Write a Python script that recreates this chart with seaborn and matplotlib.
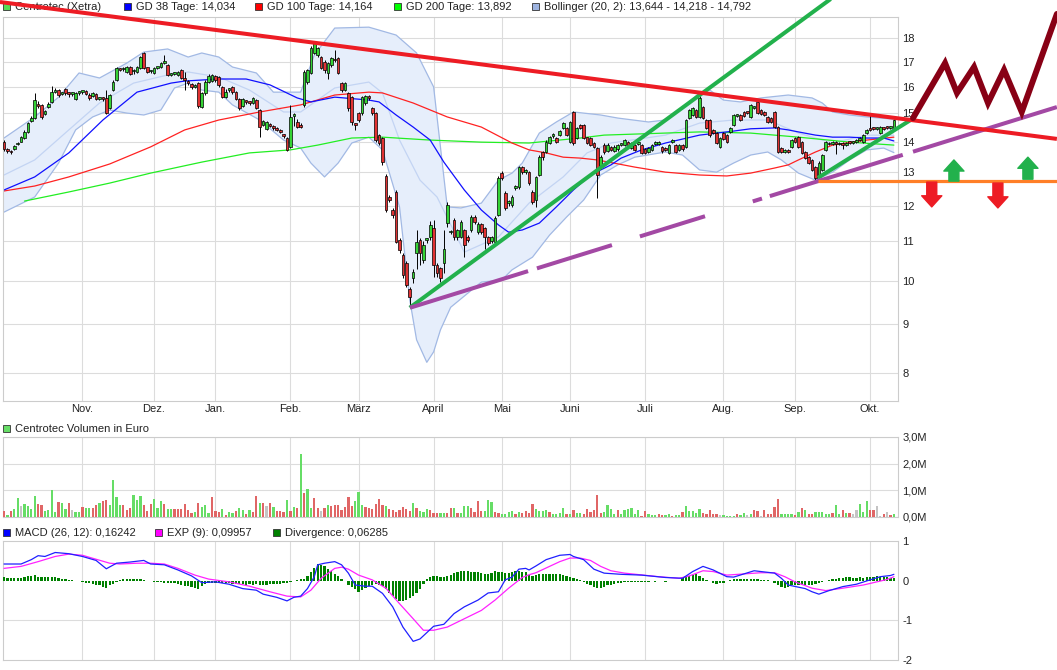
import matplotlib
matplotlib.use("Agg")
import matplotlib.pyplot as plt
from matplotlib.patches import Rectangle
from matplotlib.ticker import NullLocator, NullFormatter
import numpy as np
import pandas as pd
import seaborn as sns

W, H = 1057, 670

sns.set_style("white")
plt.rcParams["font.family"] = ["Liberation Sans", "DejaVu Sans"]
plt.rcParams["font.size"] = 8

# --- Kalender (Xetra-Handelstage) ---
START = "2019-10-01"
HOLIDAYS = ["2019-12-24", "2019-12-25", "2019-12-26", "2019-12-31", "2020-01-01",
            "2020-04-10", "2020-04-13", "2020-05-01"]
MONTH_LABELS = ["Nov.", "Dez.", "Jan.", "Feb.", "März", "April", "Mai", "Juni",
                "Juli", "Aug.", "Sep.", "Okt."]

PRICE_TICKS = [8, 9, 10, 11, 12, 13, 14, 15, 16, 17, 18]
VOL_TICKS = [0, 1, 2, 3]
VOL_TICK_LABELS = ["0,0M", "1,0M", "2,0M", "3,0M"]
MACD_TICKS = [-2, -1, 0, 1]
MACD_TICK_LABELS = ["-2", "-1", "0", "1"]

# --- Kurse (Tageskerzen) ---
opens = [
    13.99, 13.76, 13.68, 13.75, 13.92, 14.00, 14.13, 14.34, 14.72, 14.83, 15.34, 15.31, 14.98, 15.23, 15.42, 15.79,
    15.87, 15.72, 15.91, 15.74, 15.72, 15.53, 15.76,
    15.79, 15.83, 15.70, 15.65, 15.72, 15.53, 15.57, 15.57, 15.19, 15.87, 16.26, 16.70, 16.68, 16.58, 16.78, 16.60,
    16.58, 16.74, 17.36, 16.78, 16.60, 16.54, 16.74, 16.78, 16.94, 16.86, 16.46, 16.50, 16.46, 16.66, 16.30, 16.20,
    16.10, 16.00, 16.14, 15.23, 15.76, 16.18,
    16.22, 16.40, 16.38, 15.99, 15.60, 15.87, 15.99, 15.79, 15.53, 15.27, 15.45, 15.42, 15.38, 15.49, 15.12, 14.58,
    14.45, 14.60, 14.55, 14.48, 14.40, 14.25, 14.13, 13.83, 14.90, 14.70, 14.60,
    15.31, 16.18, 16.54, 17.36, 17.27, 17.19, 16.98, 16.54, 16.86, 17.10, 17.15, 16.14, 15.87, 15.76, 15.60, 14.62,
    15.01, 15.01, 15.38, 15.60, 15.19, 15.01, 14.23, 14.13, 12.89, 12.25, 11.87, 12.40, 11.04, 10.64, 10.44, 9.80,
    10.07, 10.70, 11.04, 10.52, 11.04, 11.12, 11.36, 10.39, 10.31, 10.44, 11.50, 11.25, 11.59, 11.12, 11.12, 11.31,
    11.12, 11.31, 11.67, 11.25, 11.47, 11.36, 11.12, 11.00, 10.99, 11.73, 12.98, 12.37, 12.07, 12.01, 12.52, 12.55,
    13.17, 13.01, 13.01, 12.40, 12.16, 12.92, 13.66, 13.66, 13.96, 14.20, 14.13, 14.23, 14.48, 14.48, 13.99, 15.05,
    14.13, 14.58, 14.58,
    14.16, 14.13, 13.96, 13.79, 13.17, 13.89, 13.70, 13.83, 13.70, 13.75, 13.89, 13.89, 14.00, 13.80, 13.88, 13.92,
    13.89, 13.75, 13.66, 13.73, 13.92, 13.92, 13.83, 13.80, 13.63, 13.99, 13.89, 13.73, 13.89, 13.83, 14.83, 14.94,
    15.12, 14.87, 15.23, 14.76, 14.76, 14.41, 14.30, 13.83, 14.30, 14.23, 14.34, 14.58, 14.90, 14.94, 15.05, 15.05,
    14.87, 15.19, 15.42, 15.12, 15.05, 14.87, 14.83, 15.05, 14.51, 13.79, 13.66, 13.73, 13.83, 14.13, 14.16, 13.99,
    13.66, 13.49, 13.40, 13.17, 12.92, 13.08, 13.73, 13.96, 13.92, 13.99, 13.92, 13.96, 13.89, 13.99, 13.96, 14.00,
    14.06, 13.99, 14.30, 14.48, 14.48, 14.45, 14.30, 14.48, 14.51, 14.48, 14.48,
]
closes = [
    13.76, 13.70, 13.65, 13.86, 13.96, 14.16, 14.34, 14.65, 14.83, 15.49, 15.27, 14.85, 15.08, 15.34, 15.79, 15.87,
    15.68, 15.76, 15.76, 15.72, 15.72, 15.76, 15.76,
    15.79, 15.72, 15.57, 15.76, 15.53, 15.57, 15.53, 15.01, 15.68, 16.18, 16.74, 16.66, 16.74, 16.78, 16.50, 16.66,
    16.78, 17.19, 16.74, 16.58, 16.62, 16.74, 16.74, 16.94, 16.98, 16.46, 16.46, 16.50, 16.58, 16.34, 16.26, 16.14,
    15.99, 16.07, 15.27, 15.76, 16.18, 16.40,
    16.46, 16.26, 16.07, 15.60, 15.79, 15.87, 15.79, 15.53, 15.19, 15.53, 15.42, 15.38, 15.57, 15.19, 14.51, 14.72,
    14.69, 14.55, 14.48, 14.41, 14.34, 14.20, 13.73, 14.87, 14.94, 14.52, 14.52,
    16.58, 16.66, 17.57, 17.78, 17.57, 16.74, 16.66, 16.94, 17.15, 17.05, 16.54, 15.87, 16.14, 15.19, 14.69, 14.58,
    14.76, 15.60, 15.64, 15.57, 15.01, 14.06, 13.96, 13.33, 11.87, 12.16, 11.73, 10.99, 10.77, 10.14, 9.90, 9.62,
    10.22, 10.99, 10.70, 10.91, 11.04, 11.45, 10.39, 10.19, 10.07, 10.80, 12.01, 11.25, 11.12, 11.30, 11.53, 10.91,
    11.04, 11.67, 11.53, 11.47, 11.25, 11.12, 10.96, 11.12, 11.64, 12.83, 12.83, 11.93, 12.10, 12.25, 12.55, 13.17,
    13.01, 13.05, 12.67, 12.10, 12.86, 13.49, 13.49, 13.99, 14.16, 14.27, 13.99, 14.37, 14.65, 14.23, 14.69, 13.96,
    14.48, 14.48, 14.13,
    13.96, 13.89, 13.83, 12.92, 13.49, 13.66, 13.89, 13.73, 13.83, 13.89, 13.92, 14.06, 13.89, 13.95, 13.73, 13.99,
    13.63, 13.63, 13.79, 13.89, 13.99, 13.99, 13.68, 13.73, 13.89, 14.06, 13.66, 13.89, 13.75, 14.76, 15.12, 15.19,
    14.87, 15.57, 14.83, 14.48, 14.23, 14.30, 13.96, 14.13, 14.10, 13.99, 14.48, 14.94, 14.94, 14.76, 14.90, 15.01,
    15.31, 15.23, 15.01, 14.98, 14.94, 14.69, 14.69, 14.51, 13.66, 13.66, 13.73, 13.66, 14.06, 14.00, 13.83, 13.63,
    13.46, 13.30, 13.08, 12.83, 13.30, 13.56, 13.99, 13.92, 13.99, 13.92, 13.96, 13.89, 13.96, 13.96, 13.99, 14.06,
    14.13, 14.23, 14.41, 14.41, 14.45, 14.48, 14.51, 14.45, 14.48, 14.51, 14.76,
]
highs = [
    14.05, 13.80, 13.72, 13.90, 14.00, 14.20, 14.40, 14.70, 14.90, 15.76, 15.45, 15.35, 15.12, 15.40, 16.03, 15.95,
    15.90, 15.80, 15.95, 15.78, 15.78, 15.80, 15.82,
    15.85, 15.86, 15.74, 15.80, 15.76, 15.62, 15.60, 15.87, 15.72, 16.25, 16.80, 16.76, 16.80, 16.82, 16.82, 16.70,
    16.82, 17.25, 17.40, 16.80, 16.66, 16.78, 16.80, 16.98, 17.27, 16.90, 16.52, 16.56, 16.62, 16.70, 16.58, 16.25,
    16.15, 16.12, 16.18, 15.80, 16.25, 16.48,
    16.50, 16.45, 16.42, 16.02, 15.90, 15.95, 16.02, 15.82, 15.55, 15.57, 15.50, 15.45, 15.62, 15.53, 15.15, 14.76,
    14.72, 14.65, 14.58, 14.52, 14.44, 14.28, 14.16, 15.31, 15.00, 14.78, 14.66,
    16.65, 16.72, 17.65, 17.85, 17.62, 17.25, 17.05, 16.98, 17.20, 17.50, 17.20, 16.18, 16.20, 15.80, 15.65, 14.65,
    15.05, 15.65, 15.70, 15.70, 15.25, 15.05, 14.26, 14.16, 12.95, 12.30, 11.92, 12.45, 11.10, 10.70, 10.50, 9.85,
    10.30, 11.30, 11.10, 11.00, 11.10, 11.55, 11.60, 10.45, 10.35, 11.30, 12.10, 11.30, 11.65, 11.35, 11.58, 11.35,
    11.18, 11.72, 11.72, 11.52, 11.50, 11.40, 11.15, 11.15, 11.70, 12.90, 13.05, 12.42, 12.15, 12.30, 12.62, 13.22,
    13.20, 13.10, 13.05, 12.45, 12.90, 13.55, 13.70, 14.05, 14.20, 14.32, 14.16, 14.42, 14.70, 14.52, 14.74, 15.10,
    14.52, 14.62, 14.62,
    14.18, 14.16, 13.99, 13.82, 13.55, 13.95, 13.95, 13.86, 13.88, 13.92, 13.96, 14.10, 14.03, 13.99, 13.92, 14.03,
    13.93, 13.78, 13.82, 13.93, 14.02, 14.03, 13.86, 13.82, 13.93, 14.10, 13.92, 13.92, 13.92, 14.80, 15.16, 15.22,
    15.16, 15.64, 15.27, 14.80, 14.80, 14.44, 14.33, 14.16, 14.34, 14.26, 14.52, 14.98, 14.98, 14.98, 15.08, 15.05,
    15.35, 15.27, 15.46, 15.15, 15.08, 14.90, 14.86, 15.09, 14.55, 13.82, 13.76, 13.76, 14.10, 14.16, 14.20, 14.03,
    13.70, 13.52, 13.43, 13.20, 13.35, 13.60, 14.03, 14.00, 14.02, 14.03, 14.00, 13.99, 13.99, 14.03, 14.02, 14.10,
    14.16, 14.27, 14.45, 15.01, 14.52, 14.52, 14.55, 14.52, 14.55, 14.55, 14.80,
]
lows = [
    13.70, 13.62, 13.60, 13.72, 13.88, 13.98, 14.10, 14.30, 14.70, 14.80, 15.20, 14.80, 14.95, 15.20, 15.38, 15.75,
    15.62, 15.68, 15.70, 15.60, 15.66, 15.50, 15.70,
    15.72, 15.68, 15.50, 15.60, 15.48, 15.50, 15.45, 14.98, 15.15, 15.85, 16.22, 16.60, 16.62, 16.55, 16.45, 16.50,
    16.55, 16.70, 16.70, 16.52, 16.55, 16.50, 16.68, 16.74, 16.90, 16.40, 16.40, 16.45, 16.42, 16.30, 15.87, 16.05,
    15.90, 15.95, 15.20, 15.20, 15.70, 16.15,
    16.18, 16.20, 16.00, 15.55, 15.55, 15.80, 15.72, 15.48, 15.12, 15.22, 15.35, 15.30, 15.35, 15.15, 14.16, 14.55,
    14.40, 14.50, 14.42, 14.36, 14.30, 14.12, 13.70, 13.80, 14.55, 14.48, 14.48,
    15.25, 16.10, 16.50, 17.30, 17.20, 16.70, 16.55, 16.30, 16.80, 17.00, 16.50, 15.80, 15.82, 15.10, 14.60, 14.40,
    14.70, 14.95, 15.30, 15.50, 14.95, 14.00, 13.90, 13.25, 11.80, 12.10, 11.65, 10.95, 10.70, 10.08, 9.85, 9.41,
    9.95, 10.30, 10.40, 10.45, 10.95, 11.05, 10.10, 10.10, 9.98, 10.20, 11.40, 11.20, 11.05, 11.05, 11.08, 10.60,
    10.98, 11.25, 11.48, 11.20, 11.20, 10.80, 10.90, 10.95, 10.95, 11.70, 12.75, 11.88, 12.00, 11.95, 12.45, 12.50,
    12.95, 12.95, 12.60, 12.05, 11.95, 12.88, 13.40, 13.62, 13.92, 14.13, 13.95, 14.20, 14.45, 14.20, 13.95, 13.90,
    14.10, 14.45, 14.08,
    13.92, 13.85, 13.80, 12.22, 13.12, 13.60, 13.65, 13.70, 13.65, 13.70, 13.85, 13.85, 13.85, 13.76, 13.70, 13.90,
    13.58, 13.60, 13.62, 13.70, 13.88, 13.88, 13.64, 13.70, 13.60, 13.95, 13.62, 13.70, 13.70, 13.80, 14.80, 14.90,
    14.82, 14.83, 14.78, 14.44, 14.18, 14.26, 13.92, 13.80, 14.06, 13.95, 14.30, 14.55, 14.86, 14.72, 14.85, 14.97,
    14.83, 15.15, 14.97, 14.94, 14.90, 14.65, 14.65, 14.47, 13.62, 13.62, 13.62, 13.62, 13.80, 13.96, 13.80, 13.60,
    13.42, 13.26, 13.04, 12.78, 12.88, 13.04, 13.70, 13.88, 13.88, 13.60, 13.88, 13.75, 13.86, 13.93, 13.92, 13.97,
    14.02, 13.96, 14.26, 14.38, 14.41, 14.40, 14.27, 14.40, 14.44, 14.45, 14.45,
]

gd38_idx = [0, 9, 19, 29, 39, 49, 53, 63, 71, 78, 86, 90, 97, 107, 110, 115, 120, 125, 129, 135, 140, 145, 148, 152,
            157, 162, 167, 172, 178, 181, 187, 194, 204, 214, 219, 226, 230, 233, 238, 243, 248, 253, 258, 261]
gd38_val = [12.46, 12.86, 13.63, 14.76, 15.79, 16.14, 16.22, 16.30, 16.30, 16.07, 15.57, 15.42, 15.60, 15.49, 15.42,
            14.94, 14.51, 14.06, 13.33, 12.46, 11.87, 11.45, 11.25, 11.31, 11.50, 11.96, 12.46, 12.92, 13.24, 13.46,
            13.73, 13.96, 14.23, 14.37, 14.45, 14.48, 14.41, 14.34, 14.23, 14.16, 14.16, 14.13, 14.13, 14.03]
gd100_idx = [0, 9, 19, 31, 43, 53, 63, 75, 87, 97, 107, 111, 120, 130, 140, 149, 154, 159, 164, 169, 174, 185, 194,
             204, 212, 219, 226, 230, 233, 238, 243, 253, 261]
gd100_val = [12.43, 12.58, 12.86, 13.27, 13.83, 14.41, 14.76, 15.05, 15.31, 15.68, 15.79, 15.76, 15.38, 14.87, 14.51,
             13.96, 13.73, 13.63, 13.49, 13.46, 13.40, 13.17, 13.01, 12.92, 12.89, 12.98, 13.14, 13.24, 13.40, 13.66,
             13.89, 14.06, 14.16]
gd200_idx = [6, 19, 31, 43, 58, 72, 84, 92, 102, 111, 125, 140, 154, 169, 176, 204, 219, 233, 248, 261]
gd200_val = [12.13, 12.40, 12.67, 12.98, 13.33, 13.63, 13.73, 13.89, 14.13, 14.16, 14.06, 13.99, 13.96, 14.13, 14.23,
             14.34, 14.30, 14.16, 13.99, 13.89]

bb_up_idx = [0, 9, 16, 22, 28, 36, 41, 48, 54, 58, 63, 67, 74, 79, 87, 91, 97, 107, 115, 121, 126, 130, 134, 140,
             145, 149, 152, 157, 162, 167, 175, 180, 189, 194, 199, 204, 207, 211, 216, 222, 230, 237, 240, 243, 248,
             253, 261]
bb_up_val = [14.13, 14.87, 15.60, 16.54, 16.34, 16.94, 17.40, 17.53, 17.19, 17.36, 17.19, 16.78, 16.54, 15.79, 15.79,
             17.27, 18.44, 18.48, 18.13, 17.36, 15.99, 11.96, 11.93, 12.07, 12.76, 12.98, 13.30, 14.30, 14.69, 15.05,
             14.94, 14.83, 14.69, 14.76, 15.23, 15.76, 15.87, 15.49, 15.42, 15.57, 15.68, 15.57, 15.38, 15.05, 14.94,
             14.87, 14.79]
bb_lo_idx = [0, 9, 16, 21, 26, 31, 36, 41, 46, 50, 54, 58, 63, 67, 75, 82, 87, 90, 94, 98, 102, 107, 111, 116, 119,
             121, 124, 126, 128, 131, 140, 146, 149, 155, 160, 165, 170, 175, 180, 185, 194, 199, 204, 209, 214, 219,
             224, 228, 233, 238, 243, 248, 253, 258, 261]
bb_lo_val = [11.81, 12.25, 13.30, 14.41, 14.87, 15.12, 15.01, 14.94, 15.12, 15.95, 16.14, 15.87, 15.79, 15.31, 14.76,
             14.06, 13.79, 13.30, 12.86, 13.30, 13.96, 14.16, 13.73, 11.96, 9.55, 8.67, 8.21, 8.42, 8.88, 9.38, 9.97,
             10.02, 10.27, 10.59, 11.17, 11.67, 12.16, 12.92, 13.24, 13.49, 13.66, 13.56, 13.08, 13.01, 13.30, 13.56,
             13.66, 13.40, 12.98, 12.76, 13.01, 13.40, 13.73, 13.79, 13.64]
bb_mid_idx = [0, 9, 19, 28, 38, 48, 54, 63, 72, 82, 87, 97, 107, 111, 116, 122, 127, 135, 145, 154, 164, 171, 178,
              194, 204, 214, 224, 233, 243, 253, 261]
bb_mid_val = [12.92, 13.40, 14.41, 15.38, 16.14, 16.46, 16.58, 16.38, 15.87, 15.05, 15.05, 15.95, 16.18, 15.76, 14.06,
              12.76, 12.25, 10.72, 11.12, 12.07, 12.86, 13.63, 13.96, 14.23, 14.65, 14.76, 14.76, 14.30, 13.96, 14.23,
              14.22]

# --- Volumen in Mio. Euro, Richtung g/r/n ---
vol_m = [
    0.21, 0.06, 0.21, 0.31, 0.71, 0.40, 0.48, 0.40, 0.30, 0.78, 0.48, 0.44, 0.23, 0.25, 1.00, 0.19, 0.55, 0.51, 0.30,
    0.51, 0.25, 0.18, 0.18, 0.36, 0.33, 0.33, 0.33, 0.44, 0.51, 0.59, 0.63, 0.44, 1.38, 0.74, 0.44, 0.46, 0.26, 0.33,
    0.81, 0.63, 0.78, 0.44, 0.23, 0.48, 0.66, 0.34, 0.59, 0.48, 0.29, 0.29, 0.29, 0.29, 0.29, 0.48, 0.25, 0.15, 0.18,
    0.51, 0.36, 0.44, 0.15, 0.74, 0.21, 0.18, 0.29, 0.06, 0.18, 0.14, 0.21, 0.33, 0.25, 0.10, 0.25, 0.18, 0.78, 0.51,
    0.51, 0.40, 0.51, 0.36, 0.21, 0.21, 0.18, 0.63, 0.21, 0.36, 0.35, 2.35, 0.89, 1.04, 0.34, 0.70, 0.33, 0.21, 0.33,
    0.44, 0.40, 0.44, 0.44, 0.28, 0.36, 0.74, 0.40, 0.59, 0.93, 0.44, 0.36, 0.33, 0.30, 0.48, 0.66, 0.44, 0.40, 0.29,
    0.25, 0.18, 0.25, 0.36, 0.29, 0.21, 0.51, 0.33, 0.21, 0.18, 0.29, 0.25, 0.14, 0.14, 0.14, 0.14, 0.14, 0.33, 0.33,
    0.14, 0.15, 0.40, 0.40, 0.33, 0.18, 0.59, 0.21, 0.21, 0.63, 0.55, 0.18, 0.14, 0.10, 0.10, 0.18, 0.21, 0.10, 0.18,
    0.14,
    0.21, 0.15, 0.48, 0.31, 0.21, 0.21, 0.25, 0.18, 0.10, 0.10, 0.15, 0.35, 0.13, 0.10, 0.25, 0.15, 0.15, 0.10, 0.31,
    0.19, 0.25, 0.81, 0.15, 0.19, 0.44, 0.29, 0.13, 0.25, 0.10, 0.25, 0.29, 0.34, 0.13, 0.25, 0.03, 0.21, 0.10, 0.06,
    0.06, 0.13, 0.06, 0.06, 0.10, 0.05, 0.06, 0.06, 0.19, 0.40, 0.21, 0.21, 0.16, 0.29, 0.15, 0.13, 0.25, 0.10, 0.10,
    0.06, 0.06, 0.05, 0.05, 0.05, 0.10, 0.06, 0.15, 0.06, 0.13, 0.25, 0.21, 0.04, 0.25, 0.13, 0.13, 0.38, 0.66, 0.13,
    0.13, 0.13, 0.13, 0.06, 0.19, 0.34, 0.28, 0.10, 0.10, 0.19, 0.19, 0.19, 0.13, 0.13, 0.16, 0.46, 0.13, 0.25, 0.15,
    0.15, 0.13, 0.25, 0.48, 0.19, 0.60, 0.25, 0.25, 0.40, 0.03, 0.13, 0.18, 0.06, 0.10,
]
vol_dir = ("rgrggnggggrrggggrggrnggrggrrgrrg" "gggrrrgggrrrgggrggrrrrrrgrgg" "grrrgrggrggrgrrgrnrgrrrgrgrgrg"
           "grrnrgrrrrrrrgggrrrrrrgrrrrrrrgrgggrrrggrrgrgggrrrrgggrrgggg" "rgr"
           "rrrggggrg" "gggrgrggrr" "rrrrggggrg" "gggggrrggg" "rrggrggrgg" "gggrrrrrng" "gggrggngrr"
           "nrrrrrgggg" "rgrgrrgggg" "grggrgrnng" "ggrrnnrnrg")

# --- MACD ---
macd_idx = [0, 5, 8, 10, 12, 15, 19, 23, 27, 30, 33, 37, 41, 43, 47, 51, 55, 58, 62, 66, 70, 74, 76, 80, 83, 85, 87,
            89, 91, 92, 94, 97, 99, 101, 103, 106, 108, 111, 114, 117, 120, 122, 126, 129, 132, 135, 139, 142, 145,
            147, 149, 151, 153, 154, 156, 159, 163, 166, 167, 170, 173, 176, 181, 187, 194, 199, 202, 205, 208, 212,
            214, 217, 220, 223, 226, 228, 230, 235, 237, 239, 242, 246, 250, 254, 257, 260, 261]
macd_val = [0.42, 0.42, 0.53, 0.63, 0.61, 0.71, 0.68, 0.61, 0.51, 0.30, 0.44, 0.47, 0.51, 0.42, 0.40, 0.27, 0.12,
            -0.05, -0.03, -0.09, -0.20, -0.24, -0.34, -0.42, -0.51, -0.42, -0.39, -0.20, 0.10, 0.40, 0.44, 0.48, 0.40,
            0.19, -0.11, -0.14, -0.14, -0.32, -0.66, -1.17, -1.53, -1.47, -1.15, -1.10, -0.83, -0.66, -0.49, -0.31,
            -0.28, 0.02, 0.09, 0.29, 0.31, 0.27, 0.37, 0.53, 0.64, 0.66, 0.61, 0.53, 0.29, 0.19, 0.16, 0.14, 0.08,
            0.06, 0.23, 0.36, 0.27, 0.10, 0.09, 0.17, 0.25, 0.22, 0.19, 0.06, -0.11, -0.20, -0.28, -0.34, -0.25,
            -0.15, -0.09, 0.02, 0.10, 0.13, 0.16]
exp_idx = [0, 5, 10, 15, 19, 23, 27, 31, 34, 39, 43, 47, 51, 56, 60, 66, 72, 78, 83, 87, 90, 93, 97, 99, 101, 104,
           108, 112, 116, 120, 123, 126, 130, 135, 140, 144, 148, 152, 154, 156, 160, 163, 166, 169, 172, 175, 178,
           182, 192, 198, 201, 205, 208, 212, 217, 222, 226, 229, 232, 237, 241, 246, 252, 256, 259, 261]
exp_val = [0.31, 0.36, 0.48, 0.61, 0.67, 0.64, 0.54, 0.44, 0.42, 0.44, 0.44, 0.42, 0.31, 0.14, 0.04, -0.03, -0.14,
           -0.28, -0.39, -0.41, -0.24, 0.06, 0.31, 0.34, 0.29, 0.14, 0.02, -0.19, -0.58, -0.96, -1.25, -1.25, -1.17,
           -0.96, -0.75, -0.49, -0.19, 0.08, 0.15, 0.20, 0.36, 0.48, 0.57, 0.57, 0.51, 0.36, 0.25, 0.19, 0.10, 0.06,
           0.12, 0.25, 0.23, 0.14, 0.17, 0.20, 0.20, 0.10, -0.03, -0.19, -0.25, -0.19, -0.11, -0.03, 0.03, 0.10]
divergence = [
    0.08, 0.07, 0.07, 0.06, 0.06, 0.07, 0.09, 0.11, 0.12, 0.14, 0.10, 0.09, 0.10, 0.10, 0.10, 0.09, 0.06, 0.05,
    0.03, 0.02, 0.01, 0.00, -0.02,
    -0.03, -0.05, -0.06, -0.08, -0.10, -0.12, -0.16, -0.18, -0.12, -0.08, -0.04,
    0.02, 0.04, 0.05, 0.04, 0.04, 0.03, 0.04, 0.02,
    -0.02, -0.02, -0.03, -0.03, -0.04, -0.05, -0.05, -0.06, -0.07,
    -0.09, -0.11, -0.13, -0.14, -0.16, -0.18, -0.21, -0.14,
    -0.08, -0.06, -0.05, -0.06, -0.07, -0.06, -0.05, -0.07, -0.08, -0.08,
    -0.09, -0.09, -0.10, -0.09, -0.10, -0.09, -0.10, -0.11, -0.10, -0.09, -0.09, -0.08, -0.08, -0.07, -0.06, -0.04,
    0.00, 0.02, 0.03, 0.05, 0.12, 0.22, 0.33, 0.42, 0.40, 0.36, 0.30, 0.24, 0.18, 0.12, 0.05, -0.02,
    -0.10, -0.16, -0.22, -0.28, -0.24, -0.18, -0.14, -0.10, -0.08, -0.10, -0.14,
    -0.22, -0.30, -0.38, -0.45, -0.50, -0.51, -0.49, -0.44, -0.38, -0.30, -0.20, -0.08,
    0.04, 0.10, 0.11, 0.12, 0.10, 0.08, 0.11, 0.14,
    0.20, 0.23, 0.24, 0.25, 0.24, 0.23, 0.22, 0.21, 0.20, 0.18, 0.16, 0.20, 0.24,
    0.23, 0.21, 0.20, 0.20, 0.22, 0.25, 0.24, 0.23, 0.22,
    0.14, 0.12, 0.14, 0.16, 0.17, 0.18, 0.17, 0.18, 0.17, 0.16, 0.15, 0.13, 0.10, 0.06, 0.04, 0.02,
    -0.04, -0.08, -0.12, -0.16, -0.19, -0.18, -0.15, -0.12, -0.10, -0.08, -0.06, -0.05,
    -0.04, -0.03, -0.04, -0.03, -0.03, -0.04, -0.03, -0.03, -0.02, -0.03, -0.02, -0.02, -0.03, -0.02, -0.01,
    -0.02, 0.00,
    0.06, 0.10, 0.13, 0.15, 0.17, 0.12, 0.06, 0.02, -0.02, -0.05, -0.08, -0.07, -0.05, -0.02,
    0.02, 0.03, 0.04, 0.03, 0.05, 0.04, 0.03, 0.04, 0.03, 0.02, 0.02, 0.01, 0.00,
    -0.06, -0.12, -0.16, -0.19, -0.16, -0.12, -0.10, -0.11, -0.12, -0.10, -0.11, -0.10, -0.09, -0.07, -0.04, -0.02,
    0.02, 0.04, 0.05, 0.06, 0.07, 0.08, 0.08, 0.07, 0.07, 0.08, 0.07, 0.08, 0.09, 0.10, 0.11, 0.10, 0.09, 0.08,
    0.07, 0.06,
]

# --- eingezeichnete Trendlinien / Szenario (Index, Kurs) ---
red_trend_idx, red_trend_val = [-1.2, 308.8], [19.64, 14.10]
green_trend_idx, green_trend_val = [119.0, 244.0], [9.37, 19.97]
green_short_idx, green_short_val = [238.7, 266.3], [12.83, 14.79]
purple_idx, purple_val = [119.1, 308.8], [9.37, 15.23]
purple_pieces = [(119.1, 153.7), (156.3, 178.3), (186.5, 205.6), (219.6, 222.3), (224.6, 263.6), (266.6, 308.8)]
orange_idx, orange_val = [238.7, 308.8], [12.73, 12.73]
zigzag_idx = [266.6, 276.0, 279.5, 284.5, 288.6, 293.3, 298.5, 308.8]
zigzag_val = [14.83, 16.94, 15.76, 16.78, 15.38, 16.66, 15.05, 19.08]
up_arrow_idx, up_arrow_tail, up_arrow_tip = [278.6, 300.3], [12.73, 12.79], [13.40, 13.49]
down_arrow_idx, down_arrow_tail, down_arrow_tip = [272.1, 291.5], [12.70, 12.67], [11.96, 11.93]

n = len(closes)
for name, seq in [("opens", opens), ("highs", highs), ("lows", lows), ("vol_m", vol_m),
                  ("vol_dir", vol_dir), ("divergence", divergence)]:
    if len(seq) != n:
        raise ValueError(f"{name}: {len(seq)} != {n}")

dates = pd.bdate_range(START, periods=n, freq="C", holidays=HOLIDAYS)
month_pos = [i for i in range(1, n) if dates[i].month != dates[i - 1].month]

XMIN, XMAX = -0.3, 262.2
GRID = "#dcdcdc"
TXT = "#222222"


def panel(fig, left, top, right, bottom):
    return fig.add_axes([left / W, 1 - bottom / H, (right - left) / W, (bottom - top) / H])


def style(ax, yticks, ylabels):
    for s in ax.spines.values():
        s.set_color("#cccccc")
        s.set_linewidth(0.8)
    ax.yaxis.tick_right()
    ax.set_yticks(yticks)
    ax.set_yticklabels(ylabels)
    ax.yaxis.set_minor_locator(NullLocator())
    ax.yaxis.set_minor_formatter(NullFormatter())
    ax.tick_params(axis="y", length=0, pad=3, labelsize=8, labelcolor=TXT)
    ax.tick_params(axis="x", length=0, pad=2, labelsize=8, labelcolor=TXT)
    ax.set_xticks(month_pos)
    ax.set_xlim(XMIN, XMAX)
    ax.set_xlabel("")
    ax.set_ylabel("")


def legend_item(fig, x, y, color, label):
    fig.add_artist(Rectangle((x / W, 1 - (y + 7) / H), 7 / W, 7 / H, transform=fig.transFigure,
                             facecolor=color, edgecolor="#333333", linewidth=0.6))
    fig.text((x + 12) / W, 1 - (y + 3.8) / H, label, va="center", ha="left", fontsize=8, color=TXT)


fig = plt.figure(figsize=(W / 100, H / 100), dpi=100)
ax_p = panel(fig, 3, 17, 898, 401)
ax_v = panel(fig, 3, 437, 898, 517)
ax_m = panel(fig, 3, 541, 898, 660)

# ---------------- Kurs-Panel ----------------
ax = ax_p
ax.set_yscale("log")
x = np.arange(n)
o, c, hi, lo = map(np.asarray, (opens, closes, highs, lows))

band_x = np.r_[bb_up_idx, bb_lo_idx[::-1]]
band_y = np.r_[bb_up_val, bb_lo_val[::-1]]
ax.fill(band_x, band_y, facecolor="#e6eefb", edgecolor="none", zorder=1)
for xs, ys in [(bb_up_idx, bb_up_val), (bb_lo_idx, bb_lo_val)]:
    sns.lineplot(x=xs, y=ys, ax=ax, color="#a2b9e4", linewidth=0.9, estimator=None, sort=False, zorder=2)
sns.lineplot(x=bb_mid_idx, y=bb_mid_val, ax=ax, color="#c3d4f3", linewidth=0.9, estimator=None, sort=False, zorder=2)
sns.lineplot(x=gd200_idx, y=gd200_val, ax=ax, color="#22ee22", linewidth=0.9, estimator=None, sort=False, zorder=2)
sns.lineplot(x=gd100_idx, y=gd100_val, ax=ax, color="#ff2222", linewidth=0.9, estimator=None, sort=False, zorder=2)
sns.lineplot(x=gd38_idx, y=gd38_val, ax=ax, color="#1010ff", linewidth=0.9, estimator=None, sort=False, zorder=2)

up = c >= o
body_lo = np.minimum(o, c)
body_hi = np.maximum(np.maximum(o, c), body_lo * 1.004)
ax.vlines(x, lo, hi, color="black", linewidth=0.7, zorder=3)
ax.bar(x, body_hi - body_lo, bottom=body_lo, width=0.78, color=np.where(up, "#35d335", "#e03232"),
       edgecolor="black", linewidth=0.5, zorder=4)

ax.grid(True, color=GRID, linewidth=0.8)
ax.set_axisbelow(True)
style(ax, PRICE_TICKS, [str(t) for t in PRICE_TICKS])
ax.set_xticklabels(MONTH_LABELS)
ax.set_ylim(7.476, 18.94)

# eingezeichnete Linien (ragen ueber die Achse hinaus)
kw = dict(clip_on=False, solid_capstyle="butt")
ax.plot(green_trend_idx, green_trend_val, color="#22b14c", linewidth=2.9, zorder=9, **kw)
ax.plot(green_short_idx, green_short_val, color="#22b14c", linewidth=2.9, zorder=9, **kw)
lp0, lp1 = np.log(purple_val)
for a, b in purple_pieces:
    seg = np.array([a, b])
    yy = np.exp(np.interp(seg, purple_idx, [lp0, lp1]))
    ax.plot(seg, yy, color="#a349a4", linewidth=2.9, zorder=9, **kw)
ax.plot(red_trend_idx, red_trend_val, color="#ed1c24", linewidth=2.9, zorder=10, **kw)
ax.plot(orange_idx, orange_val, color="#ff7f27", linewidth=2.3, zorder=9, **kw)
ax.plot(zigzag_idx, zigzag_val, color="#880015", linewidth=4.3, zorder=11, clip_on=False,
        solid_joinstyle="miter")
arrow = "simple,head_length=0.8,head_width=1.45,tail_width=0.72"
for xi, t0, t1 in zip(up_arrow_idx, up_arrow_tail, up_arrow_tip):
    ax.annotate("", xy=(xi, t1), xytext=(xi, t0), annotation_clip=False, zorder=12,
                arrowprops=dict(arrowstyle=arrow, mutation_scale=10, color="#22b14c", shrinkA=0, shrinkB=0))
for xi, t0, t1 in zip(down_arrow_idx, down_arrow_tail, down_arrow_tip):
    ax.annotate("", xy=(xi, t1), xytext=(xi, t0), annotation_clip=False, zorder=12,
                arrowprops=dict(arrowstyle=arrow, mutation_scale=10, color="#ed1c24", shrinkA=0, shrinkB=0))
ax.set_zorder(5)

# ---------------- Volumen ----------------
vol_colors = {"g": "#66dd66", "r": "#e06666", "n": "#c4c4c4"}
ax_v.bar(x, vol_m, width=0.66, color=[vol_colors[d] for d in vol_dir], linewidth=0, antialiased=False, zorder=3)
ax_v.grid(True, color=GRID, linewidth=0.8)
ax_v.set_axisbelow(True)
style(ax_v, VOL_TICKS, VOL_TICK_LABELS)
ax_v.set_xticklabels([])
ax_v.set_ylim(0, 3.0)

# ---------------- MACD ----------------
ax_m.bar(x, divergence, width=0.66, color="#008000", linewidth=0, antialiased=False, zorder=3)
sns.lineplot(x=exp_idx, y=exp_val, ax=ax_m, color="#ff22ff", linewidth=0.9, estimator=None, sort=False, zorder=4)
sns.lineplot(x=macd_idx, y=macd_val, ax=ax_m, color="#2020ff", linewidth=0.9, estimator=None, sort=False, zorder=5)
ax_m.xaxis.grid(True, color=GRID, linewidth=0.8)
ax_m.axhline(-1, color=GRID, linewidth=0.8, zorder=0)
ax_m.set_axisbelow(True)
style(ax_m, MACD_TICKS, MACD_TICK_LABELS)
ax_m.set_xticklabels([])
ax_m.set_ylim(-2, 1)

# ---------------- Legenden ----------------
legend_item(fig, 3, 3, "#55dd55", "Centrotec (Xetra)")
legend_item(fig, 124, 3, "#0000ff", "GD 38 Tage: 14,034")
legend_item(fig, 255, 3, "#ff0000", "GD 100 Tage: 14,164")
legend_item(fig, 394, 3, "#00ff00", "GD 200 Tage: 13,892")
legend_item(fig, 532, 3, "#9db3e0", "Bollinger (20, 2): 13,644 - 14,218 - 14,792")
legend_item(fig, 3, 425, "#66dd66", "Centrotec Volumen in Euro")
legend_item(fig, 3, 529, "#0000ff", "MACD (26, 12): 0,16242")
legend_item(fig, 155, 529, "#ff00ff", "EXP (9): 0,09957")
legend_item(fig, 273, 529, "#008000", "Divergence: 0,06285")

fig.savefig("out.png", dpi=100)
